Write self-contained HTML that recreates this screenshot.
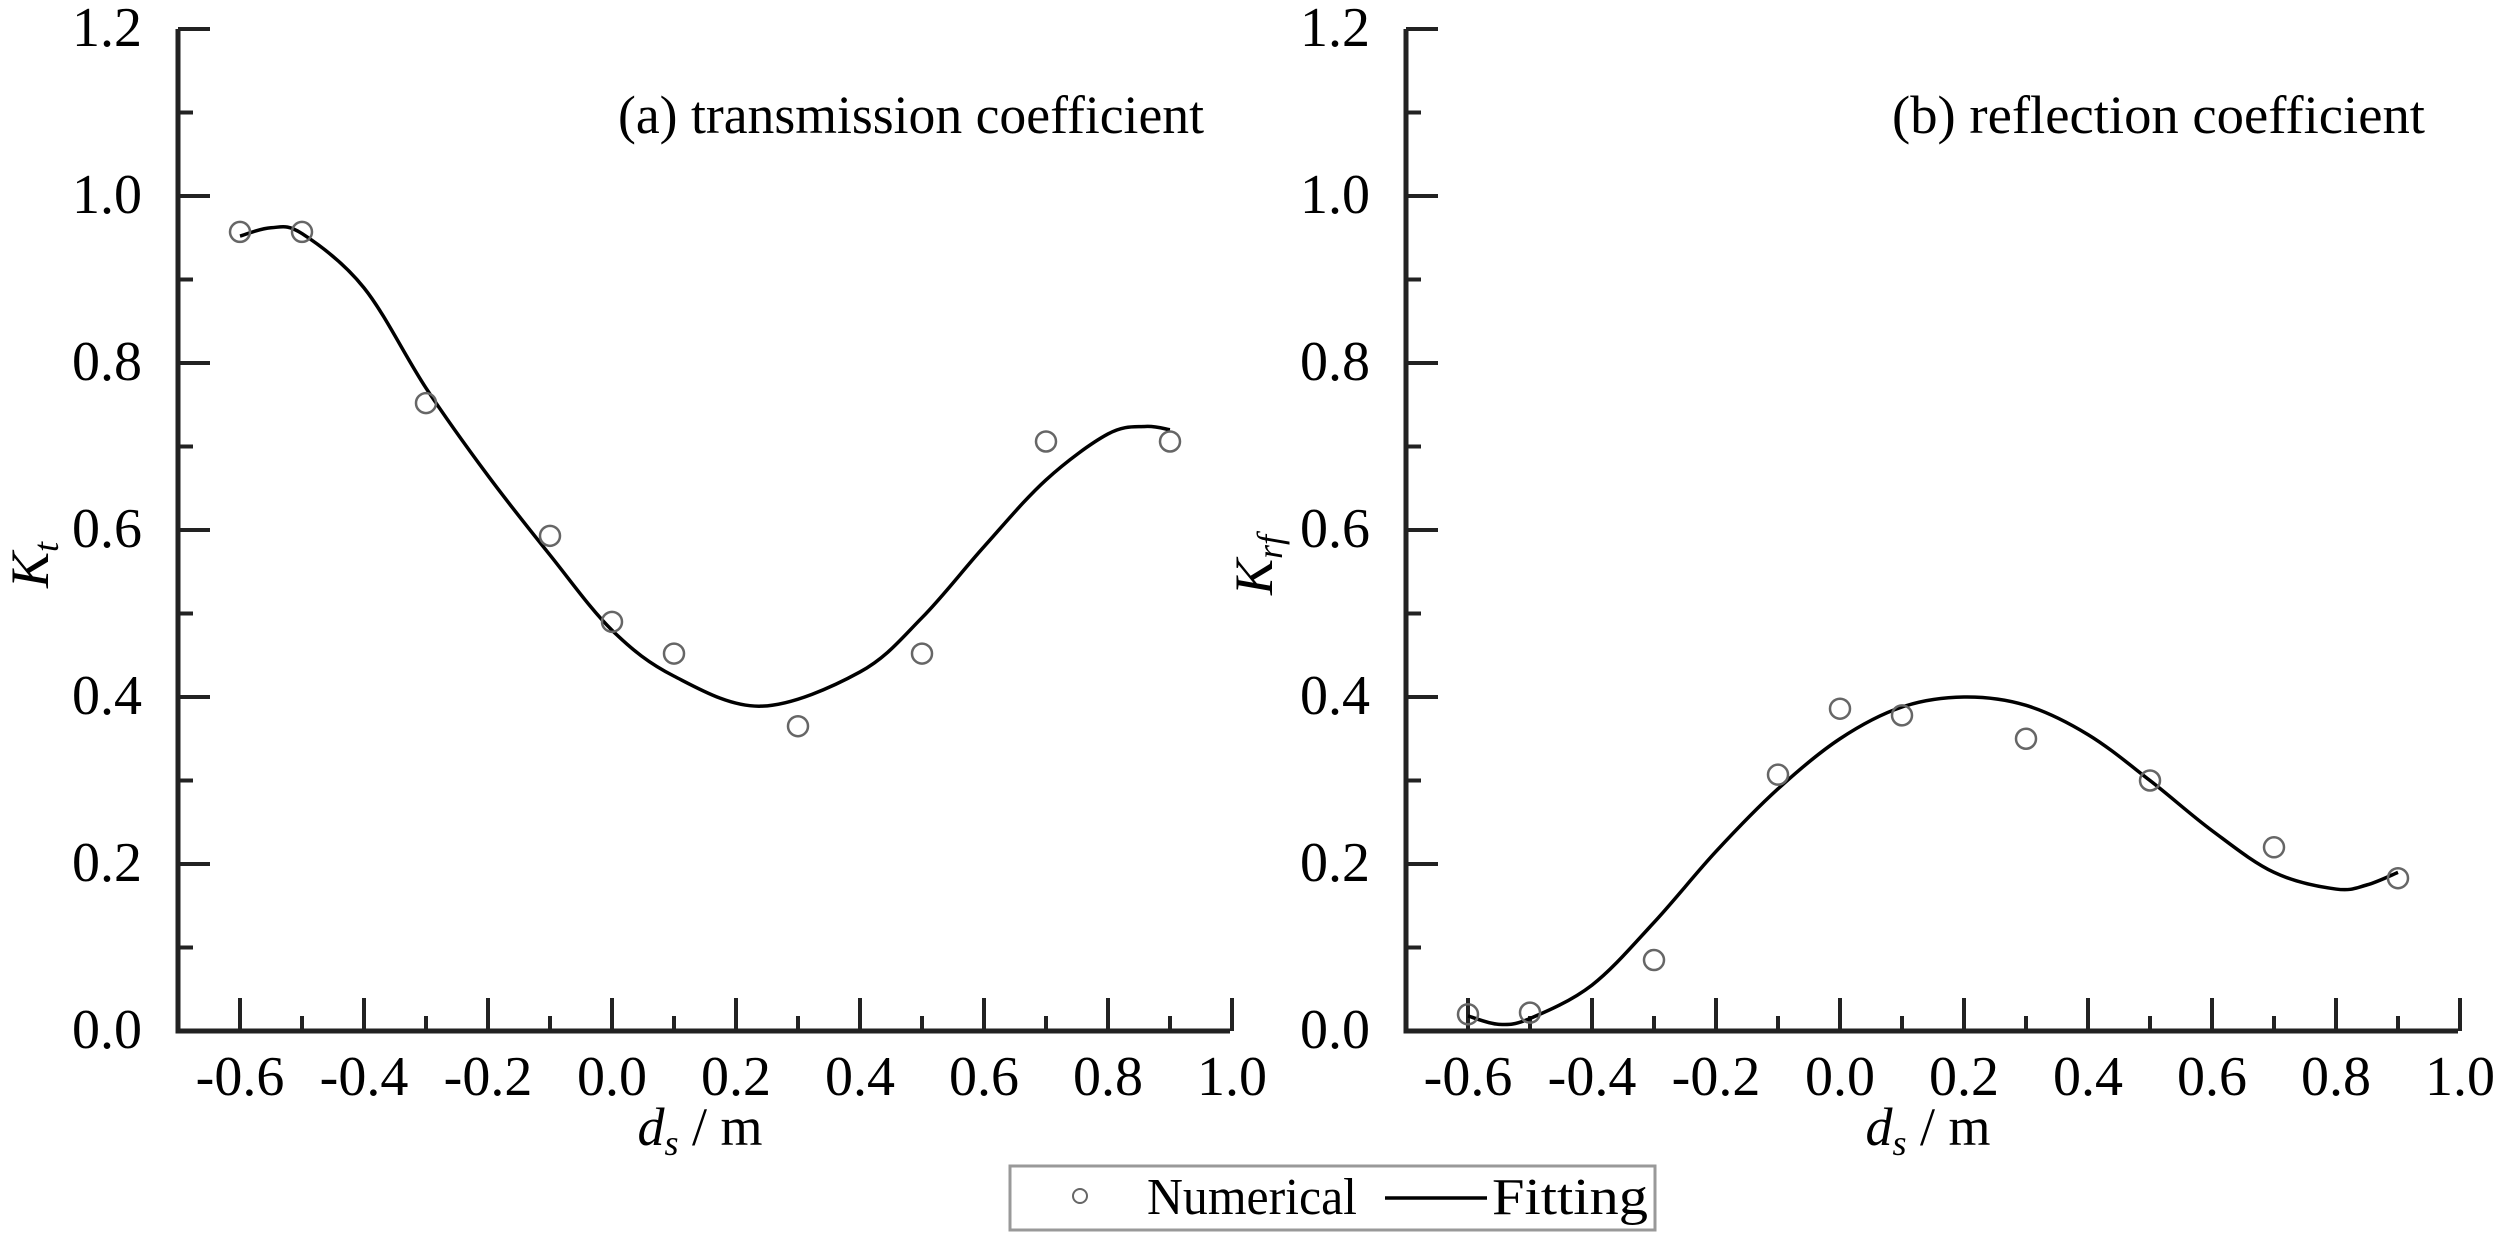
<!DOCTYPE html>
<html><head><meta charset="utf-8"><style>
html,body{margin:0;padding:0;background:#fff;}
svg{display:block;font-family:"Liberation Serif",serif;}
</style></head><body>
<svg id="s" width="2500" height="1238" viewBox="0 0 2500 1238" xmlns="http://www.w3.org/2000/svg">
<rect width="2500" height="1238" fill="#fff"/>
<g id="g"></g>
<text x="618" y="133" font-size="54" textLength="586" lengthAdjust="spacingAndGlyphs">(a) transmission coefficient</text>
<text x="1892" y="133" font-size="54" textLength="533" lengthAdjust="spacingAndGlyphs">(b) reflection coefficient</text>
<text x="700" y="1145" font-size="54" text-anchor="middle"><tspan font-style="italic">d</tspan><tspan font-size="36" font-style="italic" dy="10">s</tspan><tspan dy="-10"> / m</tspan></text>
<text x="1928" y="1145" font-size="54" text-anchor="middle"><tspan font-style="italic">d</tspan><tspan font-size="36" font-style="italic" dy="10">s</tspan><tspan dy="-10"> / m</tspan></text>
<text transform="translate(48,565) rotate(-90)" font-size="54" text-anchor="middle"><tspan font-style="italic">K</tspan><tspan font-size="36" font-style="italic" dy="10">t</tspan></text>
<text transform="translate(1272,565) rotate(-90)" font-size="54" text-anchor="middle"><tspan font-style="italic">K</tspan><tspan font-size="36" font-style="italic" dy="10">rf</tspan></text>
<rect x="1010" y="1166" width="645" height="64" fill="#fff" stroke="#999" stroke-width="3"/>
<circle cx="1080" cy="1196" r="7" fill="none" stroke="#666" stroke-width="2"/>
<text x="1147" y="1214" font-size="52" textLength="210" lengthAdjust="spacingAndGlyphs">Numerical</text>
<line x1="1385" y1="1198" x2="1487" y2="1198" stroke="#000" stroke-width="3.5"/>
<text x="1492" y="1214" font-size="52" textLength="156" lengthAdjust="spacingAndGlyphs">Fitting</text>
</svg>
<script>
var g=document.getElementById('g'),NS='http://www.w3.org/2000/svg';
function el(t,a,txt){var e=document.createElementNS(NS,t);for(var k in a)e.setAttribute(k,a[k]);if(txt!==undefined)e.textContent=txt;g.appendChild(e);return e;}
var Y0=1031,SY=835;
function panel(ox,pts,curve){
 var X=function(x){return ox+240+(x+0.6)*620;},Y=function(v){return Y0-v*SY;};
 var ax=ox+178, xr=ox+1230;
 el('path',{d:'M'+ax+' 29 L'+ax+' '+Y0+' L'+xr+' '+Y0,fill:'none',stroke:'#222','stroke-width':5,'stroke-linejoin':'miter'});
 for(var i=0;i<=12;i++){var v=i*0.1,y=Y(v),L=(i%2==0)?32:15;
  el('line',{x1:ax,y1:y,x2:ax+L,y2:y,stroke:'#222','stroke-width':4});
  if(i%2==0)el('text',{x:ox+142,y:y+17,'font-size':56,'text-anchor':'end'},v.toFixed(1));}
 for(var i=0;i<=16;i++){var x=-0.6+i*0.1,xx=X(x),L=(i%2==0)?33:15;
  el('line',{x1:xx,y1:Y0,x2:xx,y2:Y0-L,stroke:'#222','stroke-width':4});
  if(i%2==0){var s=(Math.abs(x)<1e-9?0:x).toFixed(1);el('text',{x:xx,y:1095,'font-size':56,'text-anchor':'middle'},s);}}
 var P=curve.map(function(p){return [X(p[0]),Y(p[1])];}),d='M'+P[0][0]+' '+P[0][1];
 for(var i=0;i<P.length-1;i++){var p0=P[Math.max(0,i-1)],p1=P[i],p2=P[i+1],p3=P[Math.min(P.length-1,i+2)];
  d+=' C'+(p1[0]+(p2[0]-p0[0])/6)+' '+(p1[1]+(p2[1]-p0[1])/6)+' '+(p2[0]-(p3[0]-p1[0])/6)+' '+(p2[1]-(p3[1]-p1[1])/6)+' '+p2[0]+' '+p2[1];}
 el('path',{d:d,fill:'none',stroke:'#000','stroke-width':3.5});
 pts.forEach(function(p){el('circle',{cx:X(p[0]),cy:Y(p[1]),r:10,fill:'none',stroke:'#666','stroke-width':2.5});});
}
panel(0,[[-0.6,0.957],[-0.5,0.957],[-0.3,0.752],[-0.1,0.593],[0,0.49],[0.1,0.452],[0.3,0.365],[0.5,0.452],[0.7,0.706],[0.9,0.706]],
[[-0.6,0.952],[-0.55,0.962],[-0.5,0.955],[-0.4,0.89],[-0.3,0.77],[-0.2,0.665],[-0.1,0.57],[0,0.48],[0.1,0.425],[0.24,0.389],[0.4,0.43],[0.5,0.495],[0.6,0.58],[0.7,0.66],[0.8,0.715],[0.86,0.724],[0.9,0.72]]);
panel(1228,[[-0.6,0.02],[-0.5,0.022],[-0.3,0.085],[-0.1,0.307],[0,0.386],[0.1,0.378],[0.3,0.35],[0.5,0.30],[0.7,0.22],[0.9,0.183]],
[[-0.6,0.018],[-0.55,0.008],[-0.5,0.015],[-0.4,0.055],[-0.3,0.13],[-0.2,0.215],[-0.1,0.29],[0,0.35],[0.1,0.388],[0.2,0.40],[0.3,0.39],[0.4,0.355],[0.5,0.30],[0.6,0.24],[0.7,0.19],[0.8,0.17],[0.85,0.175],[0.9,0.19]]);
</script>
</body></html>
